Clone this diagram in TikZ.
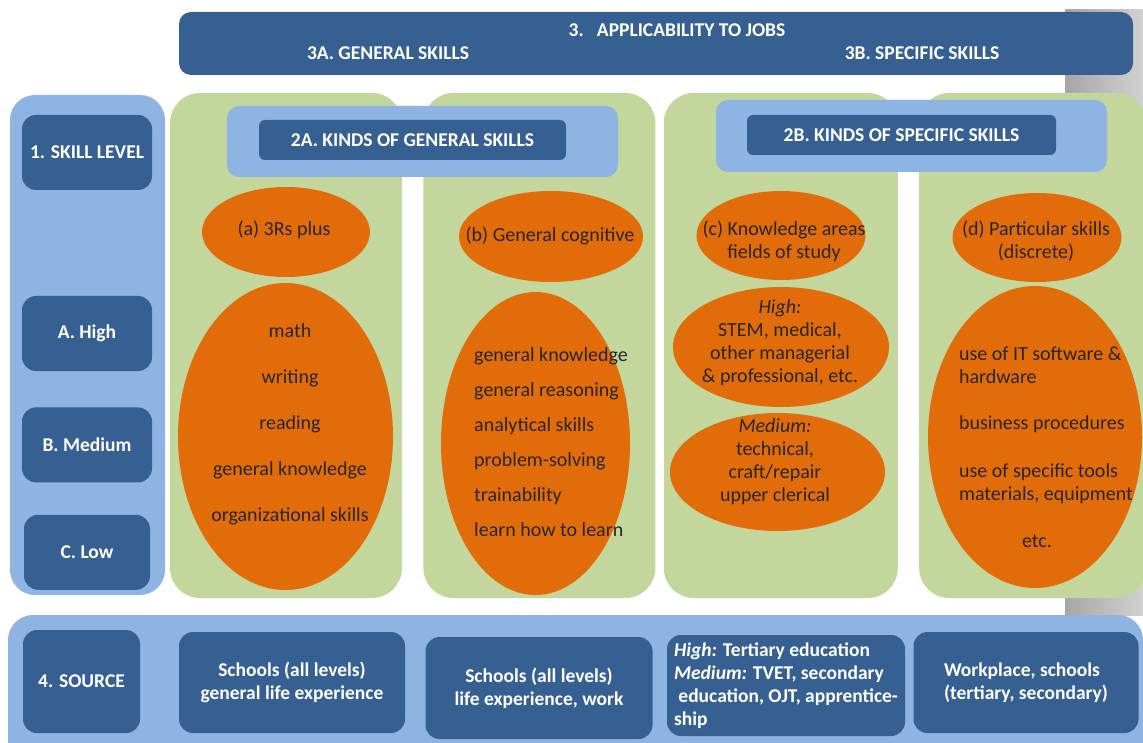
\documentclass[tikz,border=0pt]{standalone}
\usepackage{fontspec}
\setmainfont{Carlito}
\usepackage{tikz}
\usetikzlibrary{positioning,shapes.geometric}

\definecolor{darkblue}{HTML}{366092}
\definecolor{lightblue}{HTML}{8DB4E2}
\definecolor{leafgreen}{HTML}{C3D69B}
\definecolor{skillorange}{HTML}{E36C0A}
\definecolor{inkdark}{HTML}{262626}

\tikzset{
  darkbox/.style={fill=darkblue, rounded corners=14pt, text=white, align=center,
    inner sep=0pt, font=\bfseries\fontsize{19.5}{23}\selectfont},
  boxtext/.style={text=white, inner sep=0pt, font=\bfseries\fontsize{19.5}{23}\selectfont},
  panel/.style={fill=lightblue, inner sep=0pt},
  levelbox/.style={minimum width=130pt, minimum height=75pt},
  srcbox/.style={minimum width=226pt, minimum height=101pt},
  column/.style={fill=leafgreen, rounded corners=30pt, inner sep=0pt,
    minimum width=232pt, minimum height=505pt},
  blob/.style={ellipse, fill=skillorange, inner sep=0pt},
  blobtext/.style={text=inkdark, inner sep=0pt, align=center,
    font=\fontsize{20}{23}\selectfont},
  greystrip/.style={left color=black!35, right color=black!18, inner sep=0pt}
}

\begin{document}
\begin{tikzpicture}[x=1pt, y=-1pt]
\clip (0,0) rectangle (1143,743);
\fill[white] (0,0) rectangle (1143,743);

% grey strip along the right edge
\node (edge) [greystrip, minimum width=78pt, minimum height=605pt] at (1104,312.5) {};

% 3. applicability to jobs
\node (jobs) [darkbox, rounded corners=12pt, minimum width=954pt, minimum height=63pt] at (656,43.5) {};
\node (jobstitle) [boxtext] at (677,30) {3.\ \ \ APPLICABILITY TO JOBS};
\node (general) [boxtext] at (388,53) {3A. GENERAL SKILLS};
\node (specific) [boxtext] at (922,53) {3B. SPECIFIC SKILLS};

% 1. skill level
\node (levels) [panel, rounded corners=25pt, minimum width=155pt, minimum height=500pt] at (87.5,345) {};
\node (skilllevel) [darkbox, levelbox] at (87,152.5) {1. SKILL LEVEL};
\node (high) [darkbox, levelbox] at (87,333.5) {A. High};
\node (medium) [darkbox, levelbox, below=36pt of high] {B. Medium};
\node (low) [darkbox, levelbox, below=32pt of medium, minimum width=126pt] {C. Low};

% green columns
\node (cola) [column] at (286,345.5) {};
\node (colb) [column, right=21pt of cola] {};
\node (colc) [column, right=8pt of colb, minimum width=234pt] {};
\node (cold) [column, right=21pt of colc, minimum width=227pt] {};

% 2A and 2B banners
\node (bannera) [panel, rounded corners=12pt, minimum width=391pt, minimum height=71pt] at (422.5,141.5) {};
\node (kindsgen) [darkbox, rounded corners=6pt, minimum width=307pt, minimum height=40pt] at (412.5,140) {2A. KINDS OF GENERAL SKILLS};
\node (bannerb) [panel, rounded corners=12pt, minimum width=391pt, minimum height=72pt] at (911.5,136) {};
\node (kindsspec) [darkbox, rounded corners=6pt, minimum width=309pt, minimum height=40pt] at (901.5,135) {2B. KINDS OF SPECIFIC SKILLS};

% (a) 3Rs plus
\node (threers) [blob, minimum width=168pt, minimum height=90pt] at (286,232) {};
\node (threerslabel) [blobtext] at (284,230) {(a) 3Rs plus};
\node (basics) [blob, minimum width=215pt, minimum height=307pt] at (285.5,436.5) {};
\node (basicslist) [blobtext] at (290,424) {math\\[23pt]writing\\[23pt]reading\\[23pt]general knowledge\\[23pt]organizational skills};

% (b) general cognitive
\node (cognitive) [blob, minimum width=184pt, minimum height=91pt] at (551,236.5) {};
\node (cognitivelabel) [blobtext] at (550,236) {(b) General cognitive};
\node (thinking) [blob, minimum width=189pt, minimum height=303pt] at (535.5,443.5) {};
\node (thinkinglist) [blobtext, align=left] at (551,442.5) {general knowledge\\[12pt]general reasoning\\[12pt]analytical skills\\[12pt]problem-solving\\[12pt]trainability\\[12pt]learn how to learn};

% (c) knowledge areas
\node (fields) [blob, minimum width=169pt, minimum height=89pt] at (781,235.5) {};
\node (fieldslabel) [blobtext] at (784,241.5) {(c) Knowledge areas\\fields of study};
\node (fieldshigh) [blob, minimum width=216pt, minimum height=120pt] at (781,347) {};
\node (fieldshighlist) [blobtext] at (780,343) {\textit{High:}\\STEM, medical,\\other managerial\\\& professional, etc.};
\node (fieldsmed) [blob, minimum width=215pt, minimum height=118pt] at (777.5,472) {};
\node (fieldsmedlist) [blobtext] at (775,462) {\textit{Medium:}\\technical,\\craft/repair\\upper clerical};

% (d) particular skills
\node (particular) [blob, minimum width=169pt, minimum height=89pt] at (1037,237.5) {};
\node (particularlabel) [blobtext] at (1036,241.5) {(d) Particular skills\\(discrete)};
\node (tools) [blob, minimum width=214pt, minimum height=302pt] at (1035,437) {};
\node (toolslist) [blobtext, align=left] at (1046,425) {use of IT software \&\\hardware\\[23pt]business procedures\\[25pt]use of specific tools\\materials, equipment};
\node (toolsetc) [blobtext] at (1037,541) {etc.};

% 4. source
\node (sources) [panel, rounded corners=25pt, minimum width=1135pt, minimum height=160pt] at (575.5,695) {};
\node (source) [darkbox, minimum width=117pt, minimum height=103pt] at (81.5,681.5) {4. SOURCE};
\node (srcgeneral) [darkbox, srcbox] at (292,682.5) {Schools (all levels)\\general life experience};
\node (srccognitive) [darkbox, srcbox, minimum width=227pt, minimum height=102pt] at (539,688) {Schools (all levels)\\life experience, work};
\node (srcfields) [darkbox, srcbox, minimum width=238pt, align=left] at (786,685.5) {\textit{High:} Tertiary education\\\textit{Medium:} TVET, secondary\\\ education, OJT, apprentice-\\ship};
\node (srcparticular) [darkbox, srcbox, minimum width=225pt, align=left] at (1026,682.5) {Workplace, schools\\(tertiary, secondary)};
\end{tikzpicture}
\end{document}
